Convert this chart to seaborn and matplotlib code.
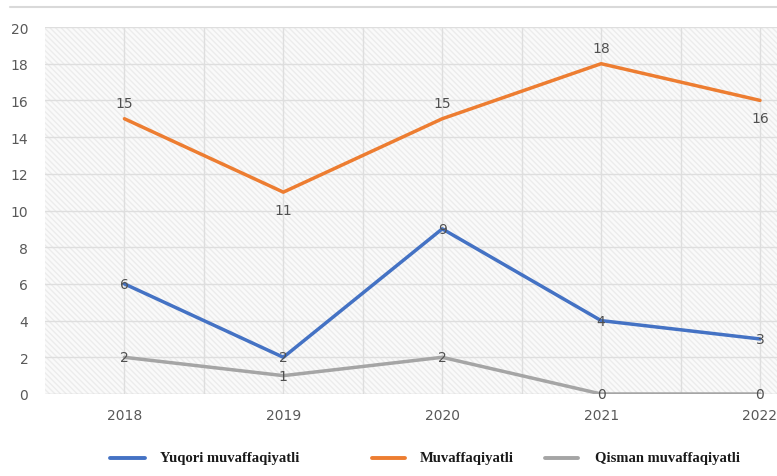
import matplotlib
matplotlib.use("Agg")
import matplotlib.pyplot as plt
import seaborn as sns
import pandas as pd
from matplotlib.patches import Rectangle
from matplotlib.lines import Line2D

years = [2018, 2019, 2020, 2021, 2022]
series_names = ["Yuqori muvaffaqiyatli", "Muvaffaqiyatli", "Qisman muvaffaqiyatli"]
yuqori = [6, 2, 9, 4, 3]
muvaffaqiyatli = [15, 11, 15, 18, 16]
qisman = [2, 1, 2, 0, 0]
colors = ["#4472C4", "#ED7D31", "#A5A5A5"]

rows = []
for name, vals in zip(series_names, [yuqori, muvaffaqiyatli, qisman]):
    for y, v in zip(years, vals):
        rows.append({"Yil": y, "Qiymat": v, "Seriya": name})
df = pd.DataFrame(rows)

sns.set_theme(style="white")
W, H = 777, 477
fig = plt.figure(figsize=(W/100, H/100), dpi=100)
ax = fig.add_axes([45/W, 1-395/H, 1-45/W, (395-28)/H])

# hatched background
ax.add_patch(Rectangle((0, 0), 1, 1, transform=ax.transAxes, facecolor="#fafafa",
                       edgecolor="#ececec", hatch="\\\\\\\\\\\\", linewidth=0, zorder=0))

sns.lineplot(data=df, x="Yil", y="Qiymat", hue="Seriya", palette=colors,
             linewidth=2.5, ax=ax, legend=False, zorder=3)

# grid
for gx in [2017.5 + 0.5*i for i in range(1, 10)]:
    ax.axvline(gx, color="#dedede", lw=1, zorder=1)
for gy in range(2, 21, 2):
    ax.axhline(gy, color="#dedede", lw=1, zorder=1)
ax.axhline(0, color="#d0d0d0", lw=1, zorder=1)

ax.set_xlim(2017.5, 2022.107)
ax.set_ylim(0, 20)
ax.set_yticks(range(0, 21, 2))
ax.set_xticks(years)
ax.set_xticklabels([str(y) for y in years])
ax.tick_params(axis="both", colors="#595959", labelsize=10, length=0)
ax.tick_params(axis="y", pad=12)
ax.tick_params(axis="x", pad=10)
ax.set_xlabel("")
ax.set_ylabel("")
for s in ax.spines.values():
    s.set_visible(False)

# data labels
lbl = dict(color="#505050", fontsize=10, ha="center", zorder=5)
for x, v in zip(years, yuqori):
    ax.text(x, v, str(v), va="center", **lbl)
for x, v in zip(years, qisman):
    ax.text(x, v, str(v), va="center", **lbl)
for x, v in zip(years, muvaffaqiyatli):
    if x in (2019, 2022):
        ax.text(x, v - 0.6, str(v), va="top", **lbl)
    else:
        ax.text(x, v + 0.5, str(v), va="bottom", **lbl)

# top rule
fig.add_artist(Line2D([10/W, 1], [1-8/H, 1-8/H], color="#d9d9d9", lw=1.5))

# legend (placed item by item like the original)
leg_y = 1 - 459/H
leg_items = [(110, 145, 160), (372, 405, 420), (545, 578, 595)]
for (x0, x1, xt), name, c in zip(leg_items, series_names, colors):
    fig.add_artist(Line2D([x0/W, x1/W], [leg_y, leg_y], color=c, lw=2.8))
    fig.text(xt/W, leg_y, name, ha="left", va="center", color="#1a1a1a",
             family="Liberation Serif", weight="bold", fontsize=10.5)

fig.savefig("out.png", dpi=100)
